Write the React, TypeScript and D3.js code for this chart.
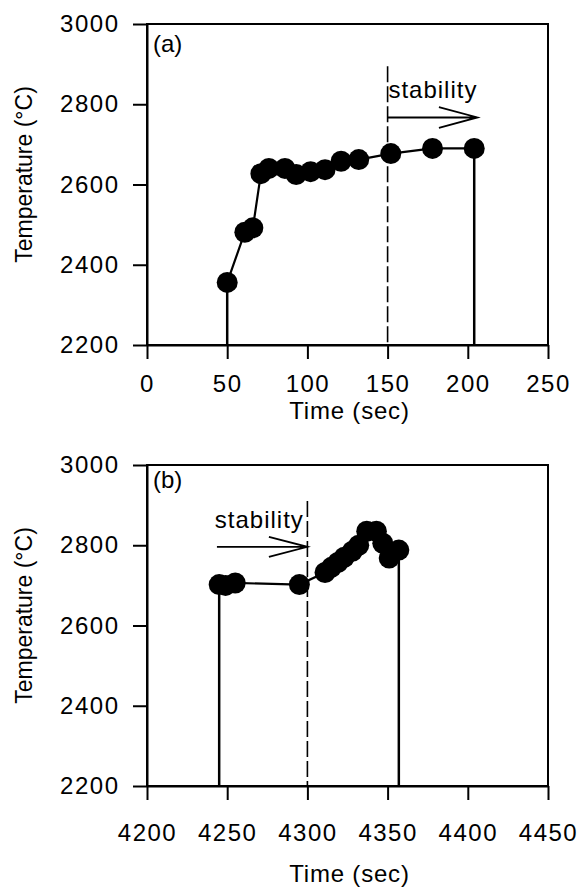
import React, { useEffect, useRef } from 'react';
import * as d3 from 'd3';

// Panel (a): temperature during heat-up
const timeA = [50, 61, 66, 71, 76, 86, 93, 102, 111, 121, 132, 152, 178, 204];
const tempA = [2356, 2481, 2492, 2627, 2640, 2640, 2625, 2632, 2637, 2658, 2662, 2677, 2690, 2690];

// Panel (b): temperature later in the run
const timeB = [4245, 4249, 4255, 4295, 4311, 4315, 4319, 4323, 4328, 4332, 4337, 4343, 4347, 4351, 4357];
const tempB = [2702, 2700, 2706, 2702, 2732, 2745, 2757, 2770, 2785, 2800, 2835, 2835, 2805, 2768, 2788];

const ticksA = [0, 50, 100, 150, 200, 250];
const ticksB = [4200, 4250, 4300, 4350, 4400, 4450];
const tempTicks = [2200, 2400, 2600, 2800, 3000];

const FONT = "'Liberation Sans', Arial, Helvetica, sans-serif";

const App = () => {
  const ref = useRef<SVGSVGElement>(null);

  useEffect(() => {
    const svg = d3.select(ref.current);
    svg.selectAll('*').remove();

    const left = 147;
    const right = 548;

    const panels = [
      {
        time: timeA, temp: tempA, ticks: ticksA, domain: [0, 250],
        top: 24, bottom: 345, xPad: 16, titleY: 419,
        tag: '(a)', tagY: 52,
        // stability annotation, in data units
        mark: 150, dashTop: 2895, arrowFrom: 150, arrowTo: 206, arrowT: 2767,
        barbT: 182, barbSpread: 26, labelX: 150.5, labelT: 2815,
      },
      {
        time: timeB, temp: tempB, ticks: ticksB, domain: [4200, 4450],
        top: 465, bottom: 786, xPad: 24, titleY: 882,
        tag: '(b)', tagY: 488,
        mark: 4300, dashTop: 2910, arrowFrom: 4243.6, arrowTo: 4300, arrowT: 2796,
        barbT: 4276, barbSpread: 25, labelX: 4242.3, labelT: 2843,
      },
    ];

    panels.forEach(p => {
      const x = d3.scaleLinear().domain(p.domain).range([left, right]);
      const y = d3.scaleLinear().domain([2200, 3000]).range([p.bottom, p.top]);
      const g = svg.append('g');

      // Frame
      g.append('rect')
        .attr('x', left)
        .attr('y', p.top)
        .attr('width', right - left)
        .attr('height', p.bottom - p.top)
        .attr('fill', 'none')
        .attr('stroke', '#000')
        .attr('stroke-width', 2);

      // X axis
      const xAxis = g.append('g')
        .attr('transform', `translate(0, ${p.bottom})`)
        .call(d3.axisBottom(x).tickValues(p.ticks).tickSize(14).tickSizeOuter(0)
          .tickPadding(p.xPad).tickFormat(d3.format('d')));

      // Y axis
      const yAxis = g.append('g')
        .attr('transform', `translate(${left}, 0)`)
        .call(d3.axisLeft(y).tickValues(tempTicks).tickSize(14).tickSizeOuter(0)
          .tickPadding(13.5).tickFormat(d3.format('d')));

      [xAxis, yAxis].forEach(ax => {
        ax.attr('font-size', 24).attr('font-family', FONT);
        ax.select('.domain').attr('stroke', '#000').attr('stroke-width', 2);
        ax.selectAll('.tick line').attr('stroke', '#000').attr('stroke-width', 2);
        ax.selectAll('.tick text').attr('fill', '#000').attr('letter-spacing', 1.5);
      });

      // Dashed "stability" marker
      g.append('line')
        .attr('x1', x(p.mark)).attr('x2', x(p.mark))
        .attr('y1', y(p.dashTop)).attr('y2', y(2200))
        .attr('stroke', '#000')
        .attr('stroke-width', 1.6)
        .attr('stroke-dasharray', '16,4');

      // Arrow
      const ax0 = x(p.arrowFrom), ax1 = x(p.arrowTo), ay = y(p.arrowT);
      const bx = x(p.barbT);
      const spread = y(2200) - y(2200 + p.barbSpread);
      g.append('path')
        .attr('d', `M${ax0},${ay}L${ax1},${ay}M${bx},${ay - spread}L${ax1},${ay}L${bx},${ay + spread}`)
        .attr('fill', 'none')
        .attr('stroke', '#000')
        .attr('stroke-width', 1.8);

      g.append('text')
        .attr('x', x(p.labelX))
        .attr('y', y(p.labelT))
        .attr('font-family', FONT)
        .attr('font-size', 24)
        .attr('letter-spacing', 1)
        .text('stability');

      // Drop lines from first and last readings
      const n = p.time.length;
      [0, n - 1].forEach(i => {
        g.append('line')
          .attr('x1', x(p.time[i])).attr('x2', x(p.time[i]))
          .attr('y1', y(p.temp[i])).attr('y2', y(2200))
          .attr('stroke', '#000')
          .attr('stroke-width', 2.5);
      });

      // Data line
      const pts = p.time.map((t, i) => [t, p.temp[i]] as [number, number]);
      const line = d3.line<[number, number]>()
        .x(d => x(d[0]))
        .y(d => y(d[1]));
      g.append('path')
        .datum(pts)
        .attr('fill', 'none')
        .attr('stroke', '#000')
        .attr('stroke-width', 2.2)
        .attr('d', line);

      // Markers
      g.selectAll('.dot')
        .data(pts)
        .enter()
        .append('circle')
        .attr('cx', d => x(d[0]))
        .attr('cy', d => y(d[1]))
        .attr('r', 10.5)
        .attr('fill', '#000');

      // Panel tag
      g.append('text')
        .attr('x', left + 6)
        .attr('y', p.tagY)
        .attr('font-family', FONT)
        .attr('font-size', 24)
        .text(p.tag);

      // Axis titles
      g.append('text')
        .attr('x', (left + right) / 2 + 2)
        .attr('y', p.titleY)
        .attr('text-anchor', 'middle')
        .attr('font-family', FONT)
        .attr('font-size', 24)
        .attr('letter-spacing', 0.8)
        .text('Time (sec)');

      const cy = (p.top + p.bottom) / 2 - 10;
      g.append('text')
        .attr('transform', `translate(32, ${cy}) rotate(-90)`)
        .attr('text-anchor', 'middle')
        .attr('font-family', FONT)
        .attr('font-size', 23)
        .text('Temperature (°C)');
    });
  }, []);

  return (
    <svg
      ref={ref}
      width={579}
      height={888}
      style={{ position: 'absolute', left: 0, top: 0, background: '#fff' }}
    />
  );
};

export default App;
